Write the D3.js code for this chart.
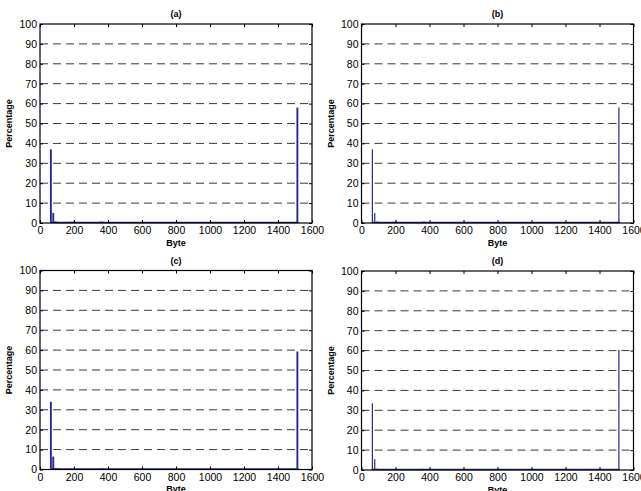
<!DOCTYPE html>
<html>
<head>
<meta charset="utf-8">
<script src="https://cdn.jsdelivr.net/npm/d3@7"></script>
<style>
  body { margin: 0; background: #fff; }
  svg { display: block; font-family: "Liberation Sans", Arial, sans-serif; }
</style>
</head>
<body>
<svg id="chart" width="641" height="491"></svg>
<script>
// packet size bins (byte) shared by the four panels
const bytes = [64, 78, 90, 100, 110, 120, 140, 160, 180, 200, 220, 250, 280, 300, 350, 360, 370, 380, 420, 500, 576, 650, 800, 950, 1100, 1250, 1400, 1514];

// percentage per bin, one array per panel
const pctA = [37, 5, 0.8, 0.6, 0.5, 0.4, 0.5, 0.6, 0.6, 0.8, 0.5, 0.3, 0.3, 0.2, 0.6, 0.7, 0.6, 0.3, 0.2, 0.3, 0.2, 0.1, 0.1, 0.1, 0.1, 0.1, 0.1, 58];
const pctB = [37, 5, 0.7, 0.6, 0.5, 0.5, 0.4, 0.5, 0.6, 0.9, 0.5, 0.3, 0.3, 0.2, 0.5, 0.7, 0.7, 0.3, 0.2, 0.3, 0.2, 0.1, 0.1, 0.1, 0.1, 0.1, 0.1, 58];
const pctC = [34, 6.5, 0.7, 0.5, 0.4, 0.3, 0.3, 0.4, 0.3, 0.4, 0.3, 0.2, 0.2, 0.2, 0.3, 0.4, 0.4, 0.3, 0.3, 0.3, 0.2, 0.2, 0.2, 0.2, 0.2, 0.2, 0.2, 59.3];
const pctD = [33.5, 5.5, 0.7, 0.5, 0.4, 0.4, 0.4, 0.4, 0.4, 0.5, 0.4, 0.3, 0.3, 0.3, 0.4, 0.6, 0.5, 0.4, 0.3, 0.3, 0.3, 0.3, 0.3, 0.3, 0.3, 0.3, 0.3, 60.3];

const titles = ["(a)", "(b)", "(c)", "(d)"];
const xTicks = [0, 200, 400, 600, 800, 1000, 1200, 1400, 1600];
const yTicks = [0, 10, 20, 30, 40, 50, 60, 70, 80, 90, 100];

const panels = [
  { title: titles[0], pct: pctA, left: 40, top: 24, barW: 1.9 },
  { title: titles[1], pct: pctB, left: 361.5, top: 24, barW: 1.2 },
  { title: titles[2], pct: pctC, left: 40, top: 270.5, barW: 1.9 },
  { title: titles[3], pct: pctD, left: 361.5, top: 271, barW: 1.2 }
];

const width = 272;
const height = 199;
const barColor = "#29298a";

const svg = d3.select("#chart");

panels.forEach(p => {
  const x = d3.scaleLinear().domain([0, 1600]).range([0, width]);
  const y = d3.scaleLinear().domain([0, 100]).range([height, 0]);

  const g = svg.append("g").attr("transform", `translate(${p.left},${p.top})`);

  // dashed horizontal grid
  g.append("g")
    .selectAll("line")
    .data(yTicks.filter(d => d > 0 && d < 100))
    .join("line")
      .attr("x1", 0).attr("x2", width)
      .attr("y1", d => y(d)).attr("y2", d => y(d))
      .attr("stroke", "#3a3a3a")
      .attr("stroke-width", 1)
      .attr("stroke-dasharray", "8,5");

  // bars
  g.append("g")
    .selectAll("rect")
    .data(bytes.map((b, i) => [b, p.pct[i]]))
    .join("rect")
      .attr("x", d => x(d[0]) - p.barW / 2)
      .attr("width", p.barW)
      .attr("y", d => y(d[1]))
      .attr("height", d => y(0) - y(d[1]))
      .attr("fill", barColor);

  // baseline made of tiny bars
  g.append("line")
    .attr("x1", x(60)).attr("x2", x(1520))
    .attr("y1", y(0) - 0.5).attr("y2", y(0) - 0.5)
    .attr("stroke", barColor).attr("stroke-width", 1.5);

  // axes, ticks pointing inward (matlab style)
  const fontSize = "10.5px";
  g.append("g")
    .attr("transform", `translate(0,${height})`)
    .call(d3.axisBottom(x).tickValues(xTicks).tickSize(-3).tickPadding(4).tickFormat(d3.format("d")))
    .call(a => a.select(".domain").remove())
    .call(a => a.selectAll("text").attr("font-size", fontSize).attr("fill", "#000"));
  g.append("g")
    .call(d3.axisTop(x).tickValues(xTicks).tickSize(-3).tickFormat(""))
    .call(a => a.select(".domain").remove());
  g.append("g")
    .call(d3.axisLeft(y).tickValues(yTicks).tickSize(-3).tickPadding(3))
    .call(a => a.select(".domain").remove())
    .call(a => a.selectAll("text").attr("font-size", fontSize).attr("fill", "#000"));
  g.append("g")
    .attr("transform", `translate(${width},0)`)
    .call(d3.axisRight(y).tickValues(yTicks).tickSize(-3).tickFormat(""))
    .call(a => a.select(".domain").remove());

  g.append("rect")
    .attr("width", width).attr("height", height)
    .attr("fill", "none").attr("stroke", "#000").attr("stroke-width", 1.2);

  g.append("text")
    .attr("x", width / 2).attr("y", -7)
    .attr("text-anchor", "middle")
    .attr("font-size", "9px").attr("font-weight", "bold")
    .text(p.title);

  g.append("text")
    .attr("x", width / 2).attr("y", height + 22.5)
    .attr("text-anchor", "middle")
    .attr("font-size", "9px").attr("font-weight", "bold")
    .text("Byte");

  g.append("text")
    .attr("transform", `translate(-28,${height / 2}) rotate(-90)`)
    .attr("text-anchor", "middle")
    .attr("font-size", "9px").attr("font-weight", "bold")
    .text("Percentage");
});
</script>
</body>
</html>
